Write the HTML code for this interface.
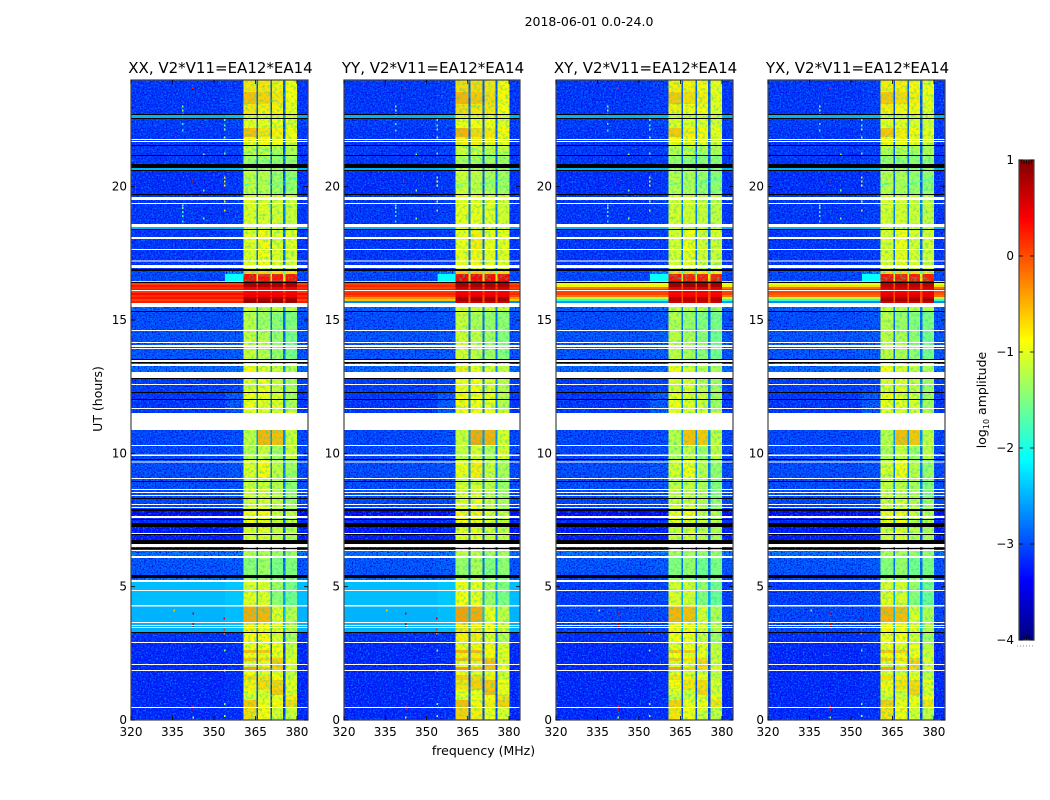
<!DOCTYPE html>
<html lang="en">
<head>
<meta charset="utf-8">
<title>2018-06-01 0.0-24.0</title>
<style>
html,body{margin:0;padding:0;background:#fff}
svg{display:block}
text{font-family:"DejaVu Sans","Liberation Sans",sans-serif;fill:#000}
</style>
</head>
<body>
<svg id="figure" xmlns="http://www.w3.org/2000/svg" width="1050" height="800" viewBox="0 0 1050 800">
<defs>
<filter id="speckle-light" x="0" y="0" width="100%" height="100%" color-interpolation-filters="sRGB">
<feTurbulence type="fractalNoise" baseFrequency="0.6" numOctaves="1" seed="3"/>
<feColorMatrix values="0 0 0 0 0  0 0 0 0 0.5  0 0 0 0 1  3.4 0 0 0 -1.55"/>
</filter>
<filter id="speckle-dark" x="0" y="0" width="100%" height="100%" color-interpolation-filters="sRGB">
<feTurbulence type="fractalNoise" baseFrequency="0.65" numOctaves="1" seed="11"/>
<feColorMatrix values="0 0 0 0 0  0 0 0 0 0.03  0 0 0 0 0.9  3 0 0 0 -1.3"/>
</filter>
<filter id="speckle-band" x="0" y="0" width="100%" height="100%" color-interpolation-filters="sRGB">
<feTurbulence type="fractalNoise" baseFrequency="0.35" numOctaves="2" seed="7"/>
<feColorMatrix values="0 0 0 0 0.1  0 0 0 0 0.85  0 0 0 0 0.65  3 0 0 0 -1.35"/>
</filter>
</defs>
<text x="589" y="26" text-anchor="middle" font-size="12.5">2018-06-01 0.0-24.0</text>
<text x="483.5" y="755" text-anchor="middle" font-size="12.5">frequency (MHz)</text>
<text x="0" y="0" transform="translate(102,399) rotate(-90)" text-anchor="middle" font-size="12.5">UT (hours)</text>
<text x="0" y="0" transform="translate(986,400) rotate(-90)" text-anchor="middle" font-size="12.5">log<tspan dy="3" font-size="8">10</tspan><tspan dy="-3"> amplitude</tspan></text>
</svg>
<script>
// ---- Axis tick values ----
const freqTicks = [320, 335, 350, 365, 380];
const hourTicks = [0, 5, 10, 15, 20];
const colorTicks = [1, 0, -1, -2, -3, -4];
const colorTickLabels = ['1', '0', '\u22121', '\u22122', '\u22123', '\u22124'];
const panelTitles = ['XX, V2*V11=EA12*EA14', 'YY, V2*V11=EA12*EA14', 'XY, V2*V11=EA12*EA14', 'YX, V2*V11=EA12*EA14'];

// ---- Heatmap columns (MHz): background, shoulder, band1, gap, band2, gap, band3, gap, band4, tail ----
const channelEdges = [320, 354, 360.6, 365.3, 366, 370.4, 371, 375, 375.8, 380.1, 384];

// ---- Heatmap rows: top edge of each time bin, in hours (last row ends at 0) ----
const rowTopHour = [24.00,23.55,23.10,22.69,22.56,22.20,21.86,21.53,21.19,20.81,20.70,20.59,19.65,18.60,18.49,18.38,17.63,17.06,16.84,16.73,16.46,16.39,15.64,15.49,15.30,14.59,13.50,13.28,13.05,12.83,12.30,11.55,10.88,10.28,9.75,9.04,8.29,7.84,7.61,7.24,6.34,6.11,5.33,5.18,4.84,4.28,3.64,3.26,2.89,2.63,2.51,2.33,2.21,1.99,1.88,1.69,1.50,1.13,0.94,0.75,0.45];

// ---- log10 amplitude read per time bin ----
const backgroundParallel = [-3.1,-3.1,-3.1,-2.5,-3.05,-3.1,-3.1,-3.1,-3.1,-3.1,-2.5,-3.15,-3.1,-3.1,-2.5,-3.1,-3.1,-3.1,-2.95,-3,-3,-3,-3.1,-2.8,-2.95,-2.9,-2.95,-2.75,-2.95,-3.05,-3.1,-3.1,-3,-3,-2.95,-2.95,-3,-3.5,-3.2,-3.3,-2.7,-2.9,-2.7,-2.45,-2.45,-2.5,-2.5,-3.15,-3.2,-3.2,-3.2,-3.2,-3.2,-3.2,-3.2,-3.2,-3.2,-3.2,-3.2,-3.2,-3.2];
const backgroundCross = [-3.1,-3.1,-3.1,-2.5,-3.05,-3.1,-3.1,-3.1,-3.1,-3.1,-2.5,-3.15,-3.1,-3.1,-2.5,-3.1,-3.1,-3.1,-2.95,-3,-3,-3,-3.1,-2.8,-2.95,-2.9,-2.95,-2.75,-2.95,-3.05,-3.1,-3.1,-3,-3,-2.95,-2.95,-3,-3.5,-3.2,-3.3,-2.7,-2.9,-3.05,-3.05,-3.05,-3,-3,-3.15,-3.2,-3.2,-3.2,-3.2,-3.2,-3.2,-3.2,-3.2,-3.2,-3.2,-3.2,-3.2,-3.2];
const shoulderParallel = [-3.05,-3.05,-3.05,-2.45,-3,-3.05,-3.05,-3.05,-3.05,-3.05,-2.45,-3.1,-3.05,-3.05,-2.45,-3.05,-3.05,-3.05,-2.6,-2.1,-2.1,-2.1,-3.05,-2.75,-2.9,-2.85,-2.9,-2.7,-2.9,-3,-2.85,-2.85,-2.95,-2.95,-2.9,-2.9,-2.95,-3.45,-3.15,-3.25,-2.65,-2.85,-2.65,-2.4,-2.4,-2.45,-2.45,-3.1,-3.15,-3.15,-3.15,-3.15,-3.15,-3.15,-3.15,-3.15,-3.15,-3.15,-3.15,-3.15,-3.15];
const shoulderCross = [-3.05,-3.05,-3.05,-2.45,-3,-3.05,-3.05,-3.05,-3.05,-3.05,-2.45,-3.1,-3.05,-3.05,-2.45,-3.05,-3.05,-3.05,-2.6,-2.1,-2.1,-2.1,-3.05,-2.75,-2.9,-2.85,-2.9,-2.7,-2.9,-3,-2.85,-2.85,-2.95,-2.95,-2.9,-2.9,-2.95,-3.45,-3.15,-3.25,-2.65,-2.85,-3,-3,-3,-3,-3,-3.1,-3.15,-3.15,-3.15,-3.15,-3.15,-3.15,-3.15,-3.15,-3.15,-3.15,-3.15,-3.15,-3.15];
const band1Level = [-.75,-.55,-.75,-1.05,-.95,-.55,-.85,-1.15,-1.3,-1.3,-1.3,-1.15,-1,-1,-1.05,-1,-1,-1,-.65,.35,.6,.5,-1,-1.05,-1.15,-1.1,-1,-.85,-1,-1,-.9,-1,-1.15,-1.2,-1,-1.1,-1.05,-.9,-.9,-1.05,-1.2,-1.4,-1.3,-1,-.95,-.45,-.8,-.85,-.9,-.55,-.85,-.6,-1,-.4,-.9,-.7,-.8,-.95,-1.1,-.6,-.7];
const band2Level = [-.75,-.65,-.8,-1.05,-.95,-.75,-.85,-1.1,-1.3,-1.3,-1.3,-1.2,-1,-1,-1.05,-.85,-.9,-1,-.65,.3,.6,.5,-1,-1.1,-1.3,-1.2,-1,-1,-1,-.95,-.95,-1,-.5,-1.1,-.85,-1.1,-1,-.85,-.9,-1,-1.2,-1.3,-1.3,-1,-1,-.5,-.85,-.85,-.9,-.6,-.85,-.7,-.9,-.6,-1,-.75,-.7,-1,-1,-.9,-.85];
const band3Level = [-.8,-.75,-.8,-1.05,-.95,-.8,-.9,-1.2,-1.35,-1.35,-1.3,-1.3,-1.05,-1,-1.05,-1,-1,-1,-.7,.3,.6,.5,-1,-1.1,-1.4,-1.35,-1,-1.1,-1,-1.1,-1,-1,-.55,-1.3,-1.15,-1.2,-1.15,-1.1,-1.1,-1.15,-1.3,-1.5,-1.35,-1.3,-1.4,-1,-.95,-1.05,-.9,-.9,-.9,-.65,-.6,-.65,-1,-.85,-.65,-.6,-.95,-.85,-1];
const band4Level = [-.9,-.9,-.95,-1.05,-1,-.9,-1,-1.2,-1.35,-1.35,-1.35,-1.35,-1.1,-1,-1.05,-1,-1.05,-1,-.75,.3,.6,.5,-1,-1.15,-1.45,-1.5,-1.1,-1.2,-1.1,-1.25,-1.25,-1,-1.1,-1.1,-1.3,-1.4,-1.3,-1.15,-1.15,-1.2,-1.3,-1.45,-1.4,-1.5,-1.55,-1.2,-1.15,-1.25,-1.1,-1,-1.1,-1,-1,-.95,-1.1,-1.1,-.95,-1,-.8,-.7,-1.1];
const gapLevel = [-3,-3,-3,-2.7,-3,-3,-3,-3,-3,-3,-2.7,-3,-2.8,-2.8,-2.7,-2.9,-2.9,-2.8,-1.8,-.8,-.2,.1,-3,-2.7,-2.9,-2.9,-2.8,-2.7,-2.8,-2.8,-2.8,-2.8,-2.7,-2.9,-2.8,-2.8,-2.8,-3.1,-2.9,-3,-2.8,-2.9,-2.8,-2.6,-2.6,-2.5,-2.5,-3,-3.1,-3.1,-3.1,-3.1,-3.1,-3.1,-3.1,-3.1,-3.1,-3.1,-3.1,-3.1,-3.1];

// ---- Per-panel polarisation differences in the bands ----
const panelBandShift = [0, 0.06, -0.05, -0.04];

// ---- Interference storm, 0.075 h time bins starting at stormTopHour ----
const stormTopHour = 16.46;
const stormBackgroundXX = [-.8,.05,.3,.15,.3,.1,.35,.15,.3,.05,.25];
const stormBackgroundYY = [-.8,.05,.2,.05,.25,.1,.2,.05,-.35,-.6,-2.7];
const stormBackgroundXY = [-.8,-1,-.8,-.2,.1,.05,.05,-.2,-1.2,-1.9,-2.6];
const stormBackgroundYX = [-.8,-1,-.7,-.15,.2,.05,-.05,-.15,-1.2,-1.9,-2.7];
const stormBandXX = [.6,.8,.8,.45,.4,.35,.4,.45,.8,.85,.85];
const stormBandYY = [.6,.8,.8,.6,.45,.4,.45,.5,.8,.85,.6];
const stormBandXY = [.6,.85,.85,.5,.4,.4,.35,.4,.75,.75,.6];
const stormBandYX = [.6,.75,.7,.55,.45,.4,.5,.5,.75,.85,.6];

// ---- Flagged time ranges [top hour, bottom hour] ----
const whiteFlags = [[21.79,21.75],[21.71,21.68],[19.61,19.50],[19.39,19.35],[18.60,18.49],[18.11,18.04],[17.66,17.63],[17.23,17.19],[17.06,16.95],[16.13,16.09],[15.64,15.49],[14.63,14.59],[14.18,14.14],[14.06,13.99],[13.95,13.91],[13.50,13.43],[13.35,13.28],[13.05,12.83],[12.60,12.56],[11.70,11.66],[11.51,10.88],[10.31,10.28],[9.96,9.90],[9.69,9.66],[9.08,9.04],[8.66,8.63],[8.55,8.51],[8.44,8.40],[8.10,8.06],[7.99,7.95],[7.65,7.58],[7.01,6.98],[6.60,6.49],[6.38,6.34],[6.15,6.08],[5.25,5.18],[4.88,4.84],[4.31,4.26],[3.68,3.64],[3.56,3.53],[3.49,3.45],[2.93,2.89],[2.10,2.06],[1.88,1.84],[0.49,0.45]];
const blackFlags = [[22.73,22.69],[22.58,22.54],[21.56,21.53],[21.19,21.15],[20.85,20.70],[20.63,20.59],[19.73,19.69],[18.41,18.38],[16.91,16.84],[16.43,16.39],[15.34,15.30],[13.54,13.50],[13.43,13.39],[12.83,12.79],[12.30,12.26],[12.04,12.00],[9.79,9.75],[8.96,8.93],[8.33,8.29],[7.91,7.84],[7.54,7.50],[7.39,7.24],[6.98,6.94],[6.75,6.60],[6.45,6.41],[5.44,5.33],[3.30,3.26]];

// ---- Isolated interference spots ----
const rfiFreq = [338.8,338.8,338.8,338.8,338.8,338.8,338.8,338.8,338.8,338.8,353.9,353.9,353.9,353.9,353.9,353.9,353.9,353.9,353.9,353.9,342.3,342.3,346.3,346.3,346.3,342.5,342.5,342.5,353.8,353.8,353.8,335.6,342.5,342.5,342.5,353.9,353.9,353.9,353.9];
const rfiHour = [23.0,22.85,22.7,22.35,22.1,19.3,19.2,19.05,18.9,18.7,22.5,22.3,22.15,21.85,21.25,20.35,20.2,20.05,19.45,19.1,23.7,20.2,21.2,19.85,18.8,4.0,3.6,3.5,3.8,3.4,3.25,4.1,0.5,0.4,0.1,2.6,1.85,0.6,0.15];
const rfiLevel = [-1.5,-1.2,-2,-2,-2,-1.5,-1.5,-2,-2,-2,-1.8,-1.7,-1.5,-1.2,-1.5,-.7,-.8,-.9,-.9,-.7,.3,.5,-1.5,-1.5,-1.5,.7,.7,.7,.6,.2,-.3,-.6,.2,.4,-1.2,-1.5,-1.5,-1.5,-1.2];

// ---- Faint drifting streaks across the bands ----
const streakFreqStart = [365.9, 360.4, 370.2, 366];
const streakFreqEnd = [374.9, 365.5, 380, 380];
const streakHourStart = [21.49, 20.06, 20.06, 21];
const streakHourEnd = [21.08, 20.14, 20.33, 20.55];
const streakLevel = [-2, -2.1, -2, -1.8];

// ---- Figure layout ----
const SVG_NS = 'http://www.w3.org/2000/svg';
const figure = document.getElementById('figure');
const panelLeft = [131, 344, 556, 768];
const panelRight = [308, 520, 733, 945];
const plotTop = 80;
const plotBottom = 720;
const freqMin = 320;
const freqMax = 384;
const hourMax = 24;
const colorMin = -4;
const colorMax = 1;
const barLeft = 1019;
const barRight = 1034;
const barTop = 160;
const barBottom = 640;
const smoothThreshold = -2.6;

function hourToY(hour) {
  return plotBottom - (hour / hourMax) * (plotBottom - plotTop);
}
function levelToBarY(level) {
  return barBottom - (level - colorMin) / (colorMax - colorMin) * (barBottom - barTop);
}
function clamp01(v) {
  return Math.max(0, Math.min(1, v));
}
function jet(level) {
  const t = clamp01((level - colorMin) / (colorMax - colorMin));
  const r = clamp01(1.5 - Math.abs(4 * t - 3));
  const g = clamp01(1.5 - Math.abs(4 * t - 2));
  const b = clamp01(1.5 - Math.abs(4 * t - 1));
  return 'rgb(' + Math.round(r * 255) + ',' + Math.round(g * 255) + ',' + Math.round(b * 255) + ')';
}
function addShape(parent, tag, attrs) {
  const el = document.createElementNS(SVG_NS, tag);
  for (const key in attrs) el.setAttribute(key, attrs[key]);
  parent.appendChild(el);
  return el;
}
function addBox(parent, x0, y0, x1, y1, fill) {
  return addShape(parent, 'rect', { x: x0, y: y0, width: x1 - x0, height: y1 - y0, fill: fill, 'shape-rendering': 'crispEdges' });
}
function addLabel(parent, content, x, y, anchor, size) {
  const el = addShape(parent, 'text', { x: x, y: y, 'text-anchor': anchor, 'font-size': size });
  el.textContent = content;
  return el;
}

const stormBackgrounds = [stormBackgroundXX, stormBackgroundYY, stormBackgroundXY, stormBackgroundYX];
const stormBands = [stormBandXX, stormBandYY, stormBandXY, stormBandYX];
const bandLevels = [band1Level, band2Level, band3Level, band4Level];

function drawPanel(p) {
  const left = panelLeft[p];
  const right = panelRight[p];
  const freqX = function (f) { return left + (f - freqMin) / (freqMax - freqMin) * (right - left); };
  const background = p < 2 ? backgroundParallel : backgroundCross;
  const shoulder = p < 2 ? shoulderParallel : shoulderCross;

  const panel = addShape(figure, 'g', {});
  
  

  // background columns first, so the receiver speckle sits only on them
  for (let r = 0; r < rowTopHour.length; r++) {
    const y0 = hourToY(rowTopHour[r]);
    const y1 = hourToY(r + 1 < rowTopHour.length ? rowTopHour[r + 1] : 0);
    const bgCell = addBox(panel, freqX(channelEdges[0]), y0, freqX(channelEdges[1]), y1, jet(background[r]));
    
    
    const shoulderCell = addBox(panel, freqX(channelEdges[1]), y0, freqX(channelEdges[2]), y1, jet(shoulder[r]));
    
    
    const tailCell = addBox(panel, freqX(channelEdges[9]), y0, freqX(channelEdges[10]), y1, jet(background[r]));
    
    
  }

  // decorative receiver-noise speckle
  ['speckle-light', 'speckle-dark'].forEach(function (id) {
    const sk1 = addShape(panel, 'rect', { x: freqX(channelEdges[0]), y: plotTop, width: freqX(channelEdges[2]) - freqX(channelEdges[0]), height: plotBottom - plotTop, filter: 'url(#' + id + ')' });
    
    
    const sk2 = addShape(panel, 'rect', { x: freqX(channelEdges[9]), y: plotTop, width: freqX(channelEdges[10]) - freqX(channelEdges[9]), height: plotBottom - plotTop, filter: 'url(#' + id + ')' });
    
    
  });

  // bright rows are smooth: repaint them above the speckle
  for (let r = 0; r < rowTopHour.length; r++) {
    const y0 = hourToY(rowTopHour[r]);
    const y1 = hourToY(r + 1 < rowTopHour.length ? rowTopHour[r + 1] : 0);
    if (background[r] > smoothThreshold) {
      const smoothCell = addBox(panel, freqX(channelEdges[0]), y0, freqX(channelEdges[1]), y1, jet(background[r]));
      
      
      const smoothTail = addBox(panel, freqX(channelEdges[9]), y0, freqX(channelEdges[10]), y1, jet(background[r]));
      
      
    }
    if (shoulder[r] > smoothThreshold) {
      const smoothShoulder = addBox(panel, freqX(channelEdges[1]), y0, freqX(channelEdges[2]), y1, jet(shoulder[r]));
      
      
    }
  }

  // four sub-bands and the gaps between them
  for (let r = 0; r < rowTopHour.length; r++) {
    const y0 = hourToY(rowTopHour[r]);
    const y1 = hourToY(r + 1 < rowTopHour.length ? rowTopHour[r + 1] : 0);
    for (let b = 0; b < 4; b++) {
      const c = 2 + b * 2;
      const bandCell = addBox(panel, freqX(channelEdges[c]), y0, freqX(channelEdges[c + 1]), y1, jet(bandLevels[b][r] + panelBandShift[p]));
      
      
      if (b < 3) {
        const gapCell = addBox(panel, freqX(channelEdges[c + 1]), y0, freqX(channelEdges[c + 2]), y1, jet(gapLevel[r]));
        
        
      }
    }
  }

  // decorative mottling and drifting streaks on the bands
  const bandSpeckle = addShape(panel, 'rect', { x: freqX(channelEdges[2]), y: plotTop, width: freqX(channelEdges[9]) - freqX(channelEdges[2]), height: plotBottom - plotTop, filter: 'url(#speckle-band)', opacity: 0.55 });
  
  
  for (let i = 0; i < streakFreqStart.length; i++) {
    const streak = addShape(panel, 'line', { x1: freqX(streakFreqStart[i]), y1: hourToY(streakHourStart[i]), x2: freqX(streakFreqEnd[i]), y2: hourToY(streakHourEnd[i]), stroke: jet(streakLevel[i]), 'stroke-width': 1, opacity: 0.6 });
    
    
  }

  // interference storm
  const stormBg = stormBackgrounds[p];
  const stormBand = stormBands[p];
  for (let s = 0; s < stormBg.length; s++) {
    const y0 = hourToY(stormTopHour - s * 0.075);
    const y1 = hourToY(stormTopHour - (s + 1) * 0.075);
    const stormCell = addBox(panel, freqX(channelEdges[0]), y0, freqX(channelEdges[2]), y1, jet(stormBg[s]));
    
    
    const stormTail = addBox(panel, freqX(channelEdges[9]), y0, freqX(channelEdges[10]), y1, jet(stormBg[s]));
    
    
    const stormGaps = addBox(panel, freqX(channelEdges[2]), y0, freqX(channelEdges[9]), y1, jet(Math.max(stormBg[s], 0)));
    
    
    for (let b = 0; b < 4; b++) {
      const c = 2 + b * 2;
      const stormBandCell = addBox(panel, freqX(channelEdges[c]), y0, freqX(channelEdges[c + 1]), y1, jet(stormBand[s]));
      
      
    }
  }

  // isolated interference spots
  for (let i = 0; i < rfiFreq.length; i++) {
    const cx = freqX(rfiFreq[i]);
    const cy = hourToY(rfiHour[i]);
    const spot = addBox(panel, cx - 0.75, cy - 1, cx + 0.75, cy + 1, jet(rfiLevel[i]));
    
    
  }

  // flagged time ranges
  whiteFlags.forEach(function (f) {
    const flag = addBox(panel, left, hourToY(f[0]), right, hourToY(f[1]), '#fff');
    
    
  });
  blackFlags.forEach(function (f) {
    const flag = addBox(panel, left, hourToY(f[0]), right, hourToY(f[1]), '#000');
    
    
  });

  // frame
  const frame = addShape(panel, 'rect', { x: left, y: plotTop, width: right - left, height: plotBottom - plotTop, fill: 'none', stroke: '#444', 'stroke-width': 1.2 });
  
  

  // x axis
  freqTicks.forEach(function (f) {
    const x = freqX(f);
    const tickBottom = addShape(panel, 'line', { x1: x, x2: x, y1: plotBottom, y2: plotBottom - 4, stroke: '#000', 'stroke-width': 0.8 });
    
    
    const tickTop = addShape(panel, 'line', { x1: x, x2: x, y1: plotTop, y2: plotTop + 4, stroke: '#000', 'stroke-width': 0.8 });
    
    
    const label = addLabel(panel, String(f), x, 736, 'middle', 12);
    
    
  });

  // y axis
  hourTicks.forEach(function (h) {
    const y = hourToY(h);
    const tickLeft = addShape(panel, 'line', { x1: left, x2: left + 4, y1: y, y2: y, stroke: '#000', 'stroke-width': 0.8 });
    
    
    const tickRight = addShape(panel, 'line', { x1: right, x2: right - 4, y1: y, y2: y, stroke: '#000', 'stroke-width': 0.8 });
    
    
    const label = addLabel(panel, String(h), left - 4, y + 4, 'end', 12);
    
    
  });

  const title = addLabel(panel, panelTitles[p], (left + right) / 2 + 1, 73, 'middle', 15);
  
  
}

for (let p = 0; p < panelLeft.length; p++) drawPanel(p);

// ---- Colorbar ----
const colorbar = addShape(figure, 'g', {});


for (let y = barTop; y < barBottom; y += 2) {
  const level = colorMax - (y + 1 - barTop) / (barBottom - barTop) * (colorMax - colorMin);
  const strip = addBox(colorbar, barLeft, y, barRight, y + 2, jet(level));
  
  
}
const barFrame = addShape(colorbar, 'rect', { x: barLeft, y: barTop, width: barRight - barLeft, height: barBottom - barTop, fill: 'none', stroke: '#444', 'stroke-width': 1.2 });


colorTicks.forEach(function (v, i) {
  const y = levelToBarY(v);
  const t1 = addShape(colorbar, 'line', { x1: barLeft, x2: barLeft + 4, y1: y, y2: y, stroke: '#000', 'stroke-width': 0.8 });
  
  
  const t2 = addShape(colorbar, 'line', { x1: barRight, x2: barRight - 4, y1: y, y2: y, stroke: '#000', 'stroke-width': 0.8 });
  
  
  const label = addLabel(colorbar, colorTickLabels[i], 1014, y + 4, 'end', 12);
  
  
});
for (let i = 1; i <= 5; i++) {
  const x = barLeft + i * 2.5;
  const capTop = addShape(colorbar, 'line', { x1: x, x2: x, y1: barTop, y2: barTop + 4, stroke: '#000', 'stroke-width': 0.7 });
  
  
  const capBottom = addShape(colorbar, 'line', { x1: x, x2: x, y1: barBottom, y2: barBottom - 4, stroke: '#000', 'stroke-width': 0.7 });
  
  
}
const dots = addShape(colorbar, 'line', { x1: 1017, x2: 1034, y1: 646, y2: 646, stroke: '#888', 'stroke-width': 1, 'stroke-dasharray': '1 2' });


</script>
</body>
</html>
